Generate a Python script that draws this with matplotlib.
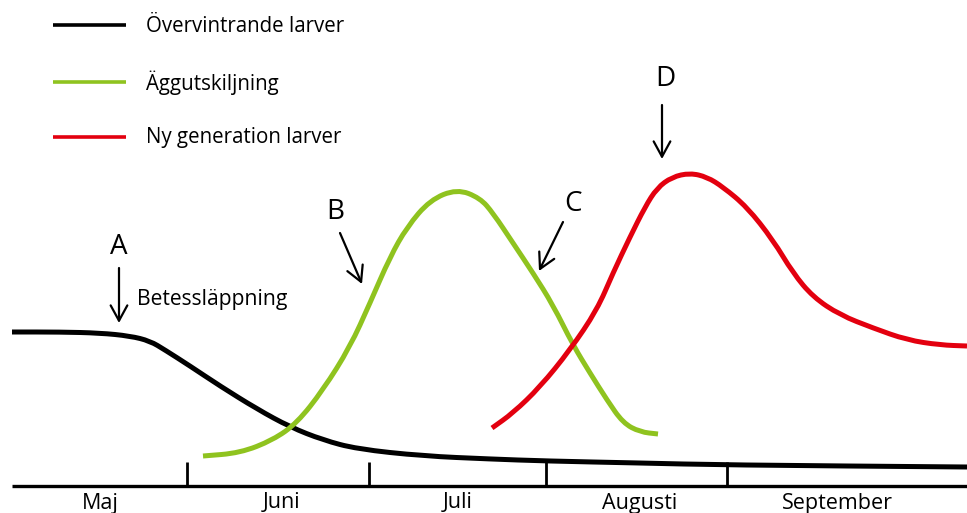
import matplotlib.pyplot as plt
from matplotlib.path import Path
from matplotlib.patches import PathPatch

# Coordinates (pixel-like units, y grows downward)
black_x = [12, 60, 100, 130, 150, 165, 190, 220, 257, 290, 323, 357, 423, 490, 546, 640, 727, 967]
black_y = [332, 332, 333, 336, 341, 350, 366, 386, 409, 427, 440, 449, 456, 459, 461, 463, 465, 467]

green_x = [203, 240, 273, 297, 323, 350, 370, 390, 407, 430, 457, 480, 493, 513, 533, 553, 573, 590, 607, 623, 640, 658]
green_y = [456, 453, 440, 423, 390, 347, 303, 257, 227, 200, 189, 198, 213, 243, 273, 305, 345, 373, 400, 423, 432, 434]

red_x = [492, 513, 540, 570, 597, 613, 630, 645, 657, 672, 690, 707, 723, 747, 773, 793, 813, 840, 873, 907, 940, 967]
red_y = [428, 413, 387, 350, 310, 273, 237, 207, 188, 177, 173, 177, 187, 207, 240, 273, 297, 315, 328, 340, 345, 346]

months = ['Maj', 'Juni', 'Juli', 'Augusti', 'September']
month_x = [100, 282, 458, 640, 837]
tick_x = [187, 369, 546, 727]

legend_labels = ['Övervintrande larver', 'Äggutskiljning', 'Ny generation larver']
legend_y = [25, 82, 137]

# letter markers: label position, arrow start, arrow end
letters = ['A', 'B', 'C', 'D']
letter_pos = [(119, 247), (335, 212), (573, 204), (665, 79)]
arrow_from = [(119, 268), (340, 233), (563, 222), (662, 105)]
arrow_to = [(119, 323), (362, 284), (539, 271), (662, 159)]

BLACK = '#000000'
GREEN = '#8fc31f'
RED = '#e3000f'
FONT = 'Open Sans'


def smooth_curve(ax, xs, ys, color, lw):
    # read points used as quadratic bezier control points, so the curve is drawn smooth
    pts = list(zip(xs, ys))
    verts = [pts[0]]
    codes = [Path.MOVETO]
    for i in range(1, len(pts) - 1):
        mid = ((pts[i][0] + pts[i + 1][0]) / 2, (pts[i][1] + pts[i + 1][1]) / 2)
        if i == 1:
            verts.append(((pts[0][0] + pts[1][0]) / 2, (pts[0][1] + pts[1][1]) / 2))
            codes.append(Path.LINETO)
        verts += [pts[i], mid]
        codes += [Path.CURVE3, Path.CURVE3]
    verts.append(pts[-1])
    codes.append(Path.LINETO)
    ax.add_patch(PathPatch(Path(verts, codes), facecolor='none', edgecolor=color,
                           lw=lw, capstyle='butt', joinstyle='round'))


fig = plt.figure(figsize=(9.67, 5.13), dpi=100)
ax = fig.add_axes([0, 0, 1, 1])
ax.set_xlim(0, 967)
ax.set_ylim(513, 0)
ax.axis('off')

# curves
smooth_curve(ax, black_x, black_y, BLACK, 3.6)
smooth_curve(ax, green_x, green_y, GREEN, 3.6)
smooth_curve(ax, red_x, red_y, RED, 3.6)

# time axis
ax.plot([12, 967], [486, 486], color=BLACK, lw=2.4, solid_capstyle='butt')
for tx in tick_x:
    ax.plot([tx, tx], [462, 486], color=BLACK, lw=2.0, solid_capstyle='butt')
for m, mx in zip(months, month_x):
    ax.text(mx, 503, m, ha='center', va='center', fontsize=15.5, family=FONT)

# legend
for lab, ly, col in zip(legend_labels, legend_y, [BLACK, GREEN, RED]):
    ax.plot([53, 126], [ly, ly], color=col, lw=2.6, solid_capstyle='butt')
    ax.text(146, ly + 1, lab, ha='left', va='center', fontsize=14.8, family=FONT)

# letters and arrows
for l, p, a0, a1 in zip(letters, letter_pos, arrow_from, arrow_to):
    ax.text(p[0], p[1], l, ha='center', va='center', fontsize=20, family=FONT)
    ax.annotate('', xy=a1, xytext=a0,
                arrowprops=dict(arrowstyle='->,head_length=1.1,head_width=0.6', lw=1.6, color=BLACK,
                                shrinkA=0, shrinkB=0))

ax.text(137, 299, 'Betessläppning', ha='left', va='center', fontsize=15.2, family=FONT)

fig.savefig('out.png', dpi=100)
